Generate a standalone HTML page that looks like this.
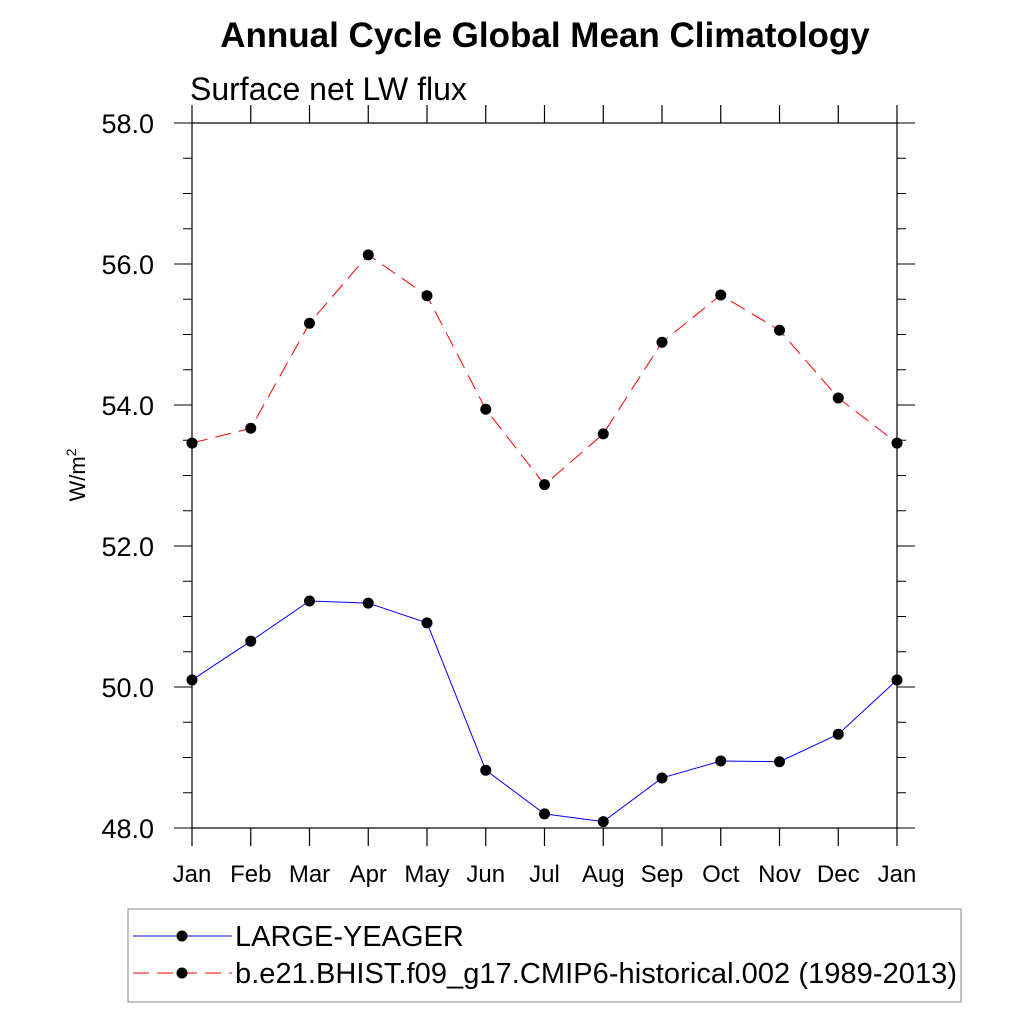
<!DOCTYPE html>
<html><head><meta charset="utf-8"><style>
body{margin:0;background:#fff;}
svg text{font-family:"Liberation Sans",sans-serif;}
</style></head><body>
<svg id="chart" width="1024" height="1024" viewBox="0 0 1024 1024">
<text x="545" y="47" text-anchor="middle" font-size="35" font-weight="bold">Annual Cycle Global Mean Climatology</text>
<text x="190" y="100" font-size="32">Surface net LW flux</text>
<text transform="translate(85,475) rotate(-90)" text-anchor="middle" font-size="22">W/m<tspan dy="-9" font-size="14">2</tspan></text>
<g id="axes"></g>
<g id="series"></g>
<rect x="128" y="909" width="833" height="93" fill="none" stroke="#888" stroke-width="1"/>
<g>
<line x1="133" y1="936" x2="232" y2="936" stroke="#00f" stroke-width="1"/>
<circle cx="182" cy="936" r="5.5" fill="#000"/>
<text x="235" y="946" font-size="29">LARGE-YEAGER</text></g>
<g>
<line x1="133" y1="973" x2="232" y2="973" stroke="#f00" stroke-width="1" stroke-dasharray="16,8"/>
<circle cx="182" cy="973" r="5.5" fill="#000"/>
<text x="235" y="983" font-size="29" textLength="722">b.e21.BHIST.f09_g17.CMIP6-historical.002 (1989-2013)</text></g>
</svg>
<script>
const months=["Jan","Feb","Mar","Apr","May","Jun","Jul","Aug","Sep","Oct","Nov","Dec","Jan"];
const largeYeager=[50.10,50.65,51.22,51.19,50.91,48.82,48.20,48.09,48.71,48.95,48.94,49.33,50.10];
const cmip6=[53.46,53.67,55.16,56.13,55.55,53.94,52.87,53.59,54.89,55.56,55.06,54.10,53.46];
const yTicks=[48,50,52,54,56,58];
const yMin=48,yMax=58;
const L=192,R=897,T=123,B=828;
const NS="http://www.w3.org/2000/svg";
function xS(i){return L+(R-L)*i/(months.length-1);}
function yS(v){return B-(v-yMin)/(yMax-yMin)*(B-T);}
function mk(tag,attrs,parent){const e=document.createElementNS(NS,tag);for(const k in attrs)e.setAttribute(k,attrs[k]);parent.appendChild(e);return e;}
const ax=document.getElementById('axes');
const frame=mk('rect',{x:L,y:T,width:R-L,height:B-T,fill:'none',stroke:'#000','stroke-width':1.2},ax);


months.forEach((m,i)=>{
 const x=xS(i);
 mk('line',{x1:x,y1:B,x2:x,y2:B+18,stroke:'#000','stroke-width':1.2},ax);
 mk('line',{x1:x,y1:T,x2:x,y2:T-18,stroke:'#000','stroke-width':1.2},ax);
 const t=mk('text',{x:x,y:B+54,'text-anchor':'middle','font-size':24},ax);
 t.textContent=m;
 
 
});
for(let v=yMin;v<=yMax+1e-9;v+=0.5){
 const y=yS(v);const major=Math.abs(v/2-Math.round(v/2))<1e-9;const len=major?18:9;
 mk('line',{x1:L,y1:y,x2:L-len,y2:y,stroke:'#000','stroke-width':1},ax);
 mk('line',{x1:R,y1:y,x2:R+len,y2:y,stroke:'#000','stroke-width':1},ax);
}
yTicks.forEach(v=>{
 const t=mk('text',{x:154,y:yS(v)+10,'text-anchor':'end','font-size':27},ax);
 t.textContent=v.toFixed(1);
 
 
});
const sg=document.getElementById('series');
function drawSeries(vals,color,dash,name){
 const g=mk('g',{},sg);
 
 
 const pts=vals.map((v,i)=>xS(i)+','+yS(v)).join(' ');
 const a={points:pts,fill:'none',stroke:color,'stroke-width':1};
 if(dash)a['stroke-dasharray']=dash;
 mk('polyline',a,g);
 vals.forEach((v,i)=>{
  const c=mk('circle',{cx:xS(i),cy:yS(v),r:5.5,fill:'#000'},g);
  
  
 });
}
drawSeries(cmip6,'#f00','16,8','series-cmip6');
drawSeries(largeYeager,'#00f',null,'series-large-yeager');
</script>
</body></html>
